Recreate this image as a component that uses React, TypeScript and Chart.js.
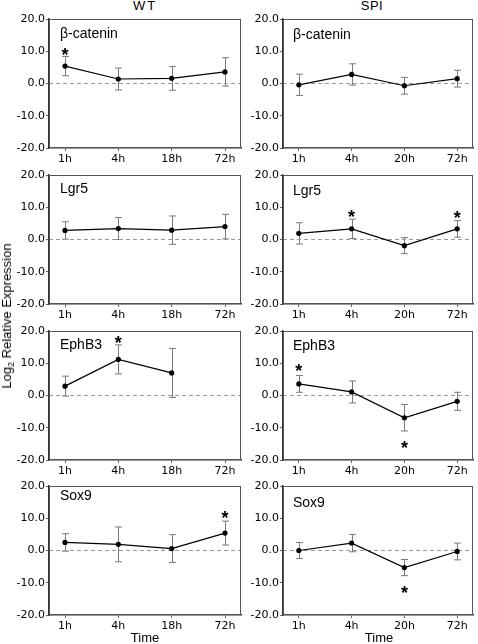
import React, { useEffect, useRef } from 'react';
import { Chart, registerables } from 'chart.js';

Chart.register(...registerables);

// ---------- data ----------
const timesWT = ['1h', '4h', '18h', '72h'];
const timesSPI = ['1h', '4h', '20h', '72h'];
const genes = ['β-catenin', 'Lgr5', 'EphB3', 'Sox9'];
const yTickValues = [-20, -10, 0, 10, 20];

const betaWT = [5.4, 1.4, 1.6, 3.6];
const betaWTErr = [3.0, 3.4, 3.7, 4.4];
const betaWTStar = [10.3, null, null, null];

const betaSPI = [-0.4, 2.8, -0.7, 1.5];
const betaSPIErr = [3.3, 3.3, 2.6, 2.6];
const betaSPIStar = [null, null, null, null];

const lgr5WT = [2.8, 3.4, 2.9, 4.0];
const lgr5WTErr = [2.7, 3.4, 4.4, 3.8];
const lgr5WTStar = [null, null, null, null];

const lgr5SPI = [1.9, 3.3, -1.9, 3.3];
const lgr5SPIErr = [3.3, 3.0, 2.5, 2.6];
const lgr5SPIStar = [null, 8.6, null, 8.2];

const ephWT = [2.9, 11.2, 7.0, null];
const ephWTErr = [3.1, 4.5, 7.6, null];
const ephWTStar = [null, 17.9, null, null];

const ephSPI = [3.6, 1.1, -6.9, -1.8];
const ephSPIErr = [2.6, 3.4, 4.1, 2.8];
const ephSPIStar = [9.0, null, -14.9, null];

const soxWT = [2.5, 1.9, 0.6, 5.4];
const soxWTErr = [2.7, 5.4, 4.3, 3.7];
const soxWTStar = [null, null, null, 11.5];

const soxSPI = [0.0, 2.3, -5.3, -0.3];
const soxSPIErr = [2.5, 2.7, 2.5, 2.6];
const soxSPIStar = [null, null, -11.8, null];

type PanelDef = {
  gene: string;
  times: string[];
  mean: (number | null)[];
  err: (number | null)[];
  star: (number | null)[];
  col: number;
  row: number;
};

const panels: PanelDef[] = [
  { gene: genes[0], times: timesWT, mean: betaWT, err: betaWTErr, star: betaWTStar, col: 0, row: 0 },
  { gene: genes[0], times: timesSPI, mean: betaSPI, err: betaSPIErr, star: betaSPIStar, col: 1, row: 0 },
  { gene: genes[1], times: timesWT, mean: lgr5WT, err: lgr5WTErr, star: lgr5WTStar, col: 0, row: 1 },
  { gene: genes[1], times: timesSPI, mean: lgr5SPI, err: lgr5SPIErr, star: lgr5SPIStar, col: 1, row: 1 },
  { gene: genes[2], times: timesWT, mean: ephWT, err: ephWTErr, star: ephWTStar, col: 0, row: 2 },
  { gene: genes[2], times: timesSPI, mean: ephSPI, err: ephSPIErr, star: ephSPIStar, col: 1, row: 2 },
  { gene: genes[3], times: timesWT, mean: soxWT, err: soxWTErr, star: soxWTStar, col: 0, row: 3 },
  { gene: genes[3], times: timesSPI, mean: soxSPI, err: soxSPIErr, star: soxSPIStar, col: 1, row: 3 },
];

// ---------- layout ----------
const ROW_TOPS = [19, 175, 331, 486];
const PLOT_H = 129;
const PAD_TOP = 10;
const X_AXIS_H = 22;
const COL_LEFT = [0, 240];
const COL_W = [245, 237];
const Y_AXIS_W = [49, 43];
const LABEL_DX = [11, 10];
const LABEL_BASE = [
  [18.5, 18.3, 18.3, 14],
  [20, 20, 19, 20.5],
];

const TICK_FONT = { family: '"DejaVu Sans", sans-serif', size: 11 };

function Panel({ p }: { p: PanelDef }) {
  const ref = useRef<HTMLCanvasElement>(null);
  const W = COL_W[p.col];
  const H = PAD_TOP + PLOT_H + X_AXIS_H;

  useEffect(() => {
    if (!ref.current) return;
    const yW = Y_AXIS_W[p.col];
    const pts = p.mean
      .map((v, i) => (v == null ? null : { x: i, y: v }))
      .filter((d) => d !== null) as { x: number; y: number }[];

    const deco = {
      id: 'deco',
      beforeDatasetsDraw(chart: any) {
        const { ctx, scales } = chart;
        const x = scales.x;
        const y = scales.y;
        ctx.save();
        ctx.strokeStyle = '#7a7a7a';
        ctx.lineWidth = 1;
        p.mean.forEach((m, i) => {
          const e = p.err[i];
          if (m == null || e == null) return;
          const px = Math.round(x.getPixelForValue(i)) + 0.5;
          const t = y.getPixelForValue(m + e);
          const b = y.getPixelForValue(m - e);
          ctx.beginPath();
          ctx.moveTo(px, t);
          ctx.lineTo(px, b);
          ctx.moveTo(px - 3.5, t);
          ctx.lineTo(px + 3.5, t);
          ctx.moveTo(px - 3.5, b);
          ctx.lineTo(px + 3.5, b);
          ctx.stroke();
        });
        ctx.restore();
      },
      afterDraw(chart: any) {
        const { ctx, chartArea, scales } = chart;
        const x = scales.x;
        const y = scales.y;
        ctx.save();
        // frame
        ctx.strokeStyle = '#555';
        ctx.lineWidth = 1;
        ctx.strokeRect(
          Math.round(chartArea.left) + 0.5,
          Math.round(chartArea.top) + 0.5,
          Math.round(chartArea.right - chartArea.left) - 1,
          Math.round(chartArea.bottom - chartArea.top) - 1
        );
        // gene label
        ctx.fillStyle = '#000';
        ctx.font = '14px "Liberation Sans", Arial, sans-serif';
        ctx.textAlign = 'left';
        ctx.textBaseline = 'alphabetic';
        ctx.fillText(p.gene, chartArea.left + LABEL_DX[p.col], chartArea.top + LABEL_BASE[p.col][p.row]);
        // stars
        const size = 18;
        ctx.font = `bold ${size}px "Liberation Sans", Arial, sans-serif`;
        ctx.textAlign = 'center';
        p.star.forEach((s, i) => {
          if (s == null) return;
          const px = x.getPixelForValue(i);
          const py = y.getPixelForValue(s);
          ctx.fillText('*', px, py + size * 0.6);
        });
        ctx.restore();
      },
    };

    const chart = new Chart(ref.current, {
      type: 'line',
      data: {
        datasets: [
          {
            data: pts,
            borderColor: '#000',
            backgroundColor: '#000',
            borderWidth: 1.2,
            pointRadius: 2.6,
            pointBorderWidth: 0,
            pointBackgroundColor: '#000',
            tension: 0,
          },
          {
            data: [
              { x: -0.3, y: 0 },
              { x: 3.3, y: 0 },
            ],
            borderColor: '#9a9a9a',
            borderWidth: 1,
            borderDash: [4, 3],
            pointRadius: 0,
          },
        ],
      },
      options: {
        responsive: false,
        animation: false,
        events: [],
        layout: { padding: { top: PAD_TOP, right: 1, left: 0, bottom: 0 } },
        plugins: { legend: { display: false }, tooltip: { enabled: false } },
        scales: {
          x: {
            type: 'linear',
            min: -0.3,
            max: 3.3,
            afterBuildTicks: (s: any) => {
              s.ticks = p.times.map((_, i) => ({ value: i }));
            },
            afterFit: (s: any) => {
              s.height = X_AXIS_H;
            },
            ticks: {
              callback: (v: any) => p.times[v as number],
              font: TICK_FONT,
              color: '#000',
              padding: 2,
              maxRotation: 0,
              autoSkip: false,
            },
            grid: { drawOnChartArea: false, drawTicks: true, tickLength: 3, color: '#666' },
            border: { display: true, color: '#333', width: 1.5 },
          },
          y: {
            type: 'linear',
            min: -20,
            max: 20,
            afterBuildTicks: (s: any) => {
              s.ticks = yTickValues.map((v) => ({ value: v }));
            },
            afterFit: (s: any) => {
              s.width = yW;
            },
            ticks: {
              callback: (v: any) => Number(v).toFixed(1),
              font: TICK_FONT,
              color: '#000',
              padding: 1,
            },
            grid: { drawOnChartArea: false, drawTicks: true, tickLength: 3, color: '#666' },
            border: { display: true, color: '#333', width: 1.5 },
          },
        },
      },
      plugins: [deco],
    } as any);
    return () => chart.destroy();
  }, []);

  return (
    <canvas
      ref={ref}
      width={W}
      height={H}
      style={{
        position: 'absolute',
        left: COL_LEFT[p.col],
        top: ROW_TOPS[p.row] - PAD_TOP,
        width: W,
        height: H,
      }}
    />
  );
}

export default function App() {
  const textFont = '"Liberation Sans", Arial, sans-serif';
  return (
    <div
      style={{
        position: 'absolute',
        left: 0,
        top: 0,
        width: 478,
        height: 644,
        background: '#fff',
        fontFamily: textFont,
        color: '#000',
        overflow: 'hidden',
      }}
    >
      <div style={{ position: 'absolute', left: 145, top: -1, transform: 'translateX(-50%)', fontSize: 13, lineHeight: '13px', letterSpacing: 2 }}>
        WT
      </div>
      <div style={{ position: 'absolute', left: 372, top: -1, transform: 'translateX(-50%)', fontSize: 13, lineHeight: '13px', letterSpacing: 0.5 }}>
        SPI
      </div>
      {panels.map((p, i) => (
        <Panel key={i} p={p} />
      ))}
      <div
        style={{
          position: 'absolute',
          left: 7,
          top: 316,
          transform: 'translate(-50%, -50%) rotate(-90deg)',
          fontSize: 13,
          lineHeight: '14px',
          whiteSpace: 'nowrap',
        }}
      >
        Log<sub style={{ fontSize: 9, verticalAlign: '-3px', lineHeight: 0 }}>2</sub> Relative Expression
      </div>
      <div style={{ position: 'absolute', left: 145, top: 631, transform: 'translateX(-50%)', fontSize: 13, lineHeight: '13px' }}>
        Time
      </div>
      <div style={{ position: 'absolute', left: 379, top: 631, transform: 'translateX(-50%)', fontSize: 13, lineHeight: '13px' }}>
        Time
      </div>
    </div>
  );
}
